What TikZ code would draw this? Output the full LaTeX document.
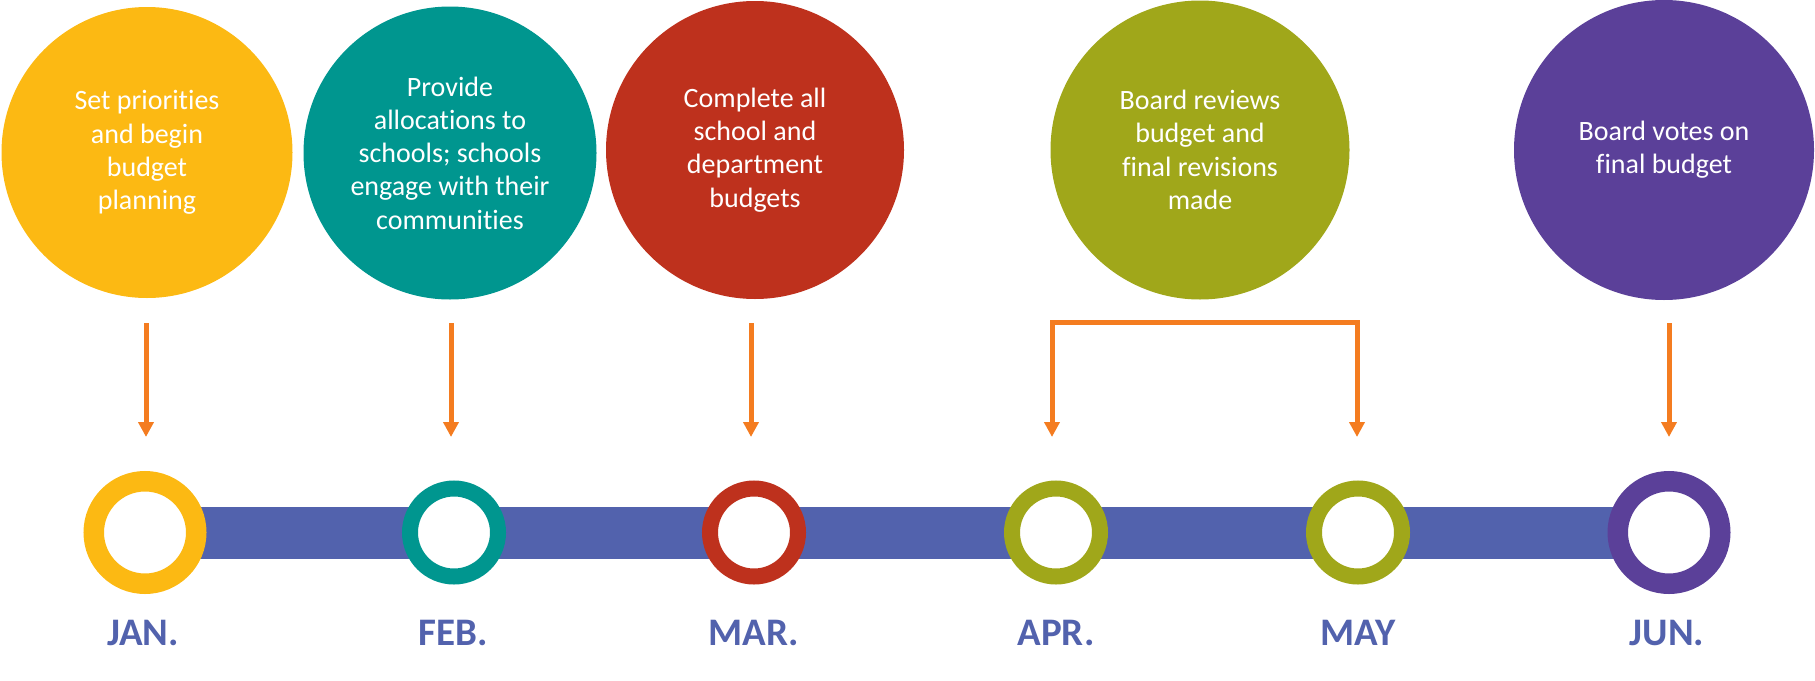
\documentclass[tikz,border=0pt]{standalone}
\usepackage{fontspec}
\setmainfont{Carlito}[Ligatures={NoCommon,NoContextual}]
\usetikzlibrary{arrows.meta}
\definecolor{cyellow}{RGB}{252,185,19}
\definecolor{cteal}{RGB}{0,150,143}
\definecolor{cred}{RGB}{190,49,29}
\definecolor{colive}{RGB}{160,167,26}
\definecolor{cpurple}{RGB}{91,64,153}
\definecolor{cbar}{RGB}{82,98,173}
\definecolor{corange}{RGB}{244,124,32}
\begin{document}
\begin{tikzpicture}[x=1pt,y=-1pt,
  bigc/.style={circle,inner sep=0pt,text=white,align=center,
    font=\fontsize{28}{33.3}\selectfont},
  ringbig/.style={circle,inner sep=0pt,fill=white,line width=20.5pt,minimum size=102.5pt},
  ringsmall/.style={circle,inner sep=0pt,fill=white,line width=16pt,minimum size=88pt},
  month/.style={anchor=base,text=cbar,font=\fontsize{39}{39}\selectfont\bfseries},
  arr/.style={draw=corange,line width=5pt,-{Triangle[width=15pt,length=15pt]}},
  brk/.style={draw=corange,line width=5pt,line join=miter,
    {Triangle[width=15pt,length=15pt]}-{Triangle[width=15pt,length=15pt]}},
  bar/.style={draw=cbar,line width=52pt}]
\useasboundingbox (0,0) rectangle (1815,680);

% big circles
\node[bigc,fill=cyellow,minimum size=291pt] (c1) at (147,152.5)
  {Set priorities\\and begin\\budget\\planning};
\node[bigc,fill=cteal,minimum size=293pt] (c2) at (450,153)
  {Provide\\allocations to\\schools; schools\\engage with their\\communities};
\node[bigc,fill=cred,minimum size=298pt] (c3) at (755,150)
  {Complete all\\school and\\department\\budgets};
\node[bigc,fill=colive,minimum size=299pt] (c4) at (1200,150)
  {Board reviews\\budget and\\final revisions\\made};
\node[bigc,fill=cpurple,minimum size=300pt] (c5) at (1664,150)
  {Board votes on\\final budget};

% ring centres
\coordinate (p1) at (145,532.5);
\coordinate (p2) at (454,532.5);
\coordinate (p3) at (754,532.5);
\coordinate (p4) at (1056,532.5);
\coordinate (p5) at (1358,532.5);
\coordinate (p6) at (1669,532.5);

% timeline bar
\draw[bar] (p1) -- (p6);

% rings
\node[ringbig,draw=cyellow] (r1) at (p1) {};
\node[ringsmall,draw=cteal] (r2) at (p2) {};
\node[ringsmall,draw=cred] (r3) at (p3) {};
\node[ringsmall,draw=colive] (r4) at (p4) {};
\node[ringsmall,draw=colive] (r5) at (p5) {};
\node[ringbig,draw=cpurple] (r6) at (p6) {};

% month labels
\node[month] (m1) at (143,645) {JAN.};
\node[month] (m2) at (453,645) {FEB.};
\node[month] (m3) at (754,645) {MAR.};
\node[month] (m4) at (1056,645) {APR.};
\node[month] (m5) at (1358,645) {MAY};
\node[month] (m6) at (1667,645) {JUN.};

% arrows
\coordinate (s1) at (146,323);  \coordinate (t1) at (146,437);
\coordinate (s2) at (451,323);  \coordinate (t2) at (451,437);
\coordinate (s3) at (751,323);  \coordinate (t3) at (751,437);
\coordinate (k4) at (1052,322); \coordinate (t4) at (1052,437);
\coordinate (k5) at (1357,322); \coordinate (t5) at (1357,437);
\coordinate (s6) at (1669,323); \coordinate (t6) at (1669,437);

\draw[arr] (s1) -- (t1);
\draw[arr] (s2) -- (t2);
\draw[arr] (s3) -- (t3);
\draw[brk] (t4) -- (k4) -- (k5) -- (t5);
\draw[arr] (s6) -- (t6);
\end{tikzpicture}
\end{document}
